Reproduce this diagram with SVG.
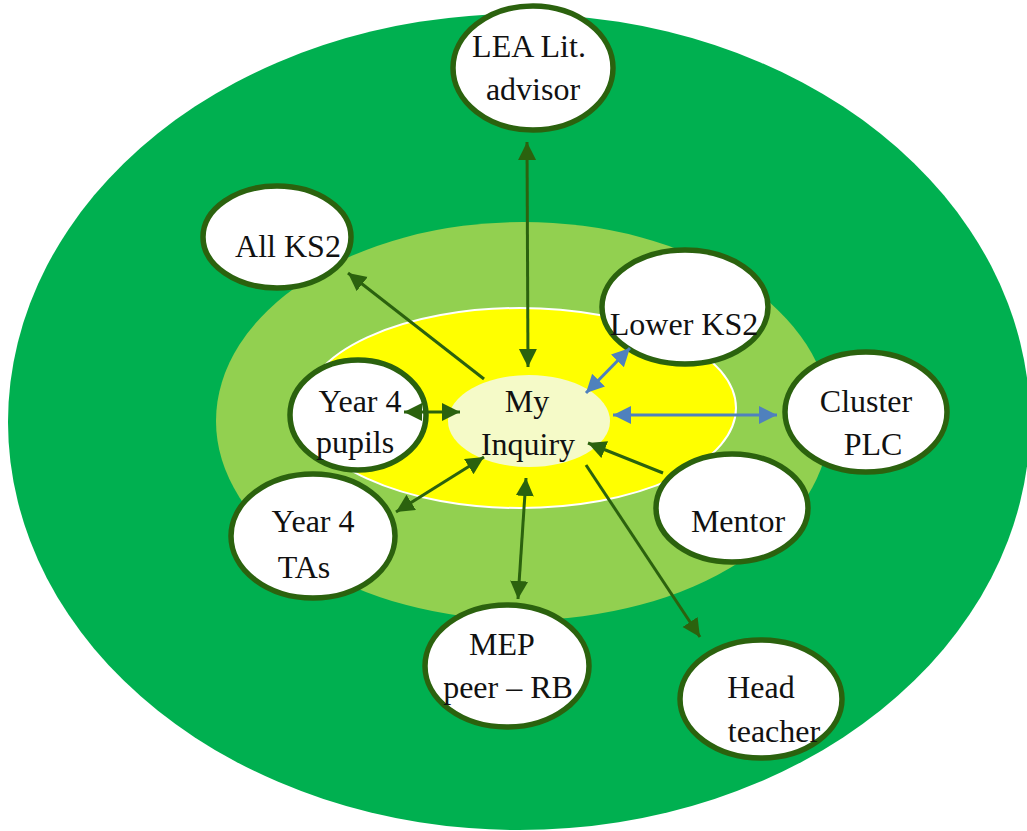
<svg xmlns="http://www.w3.org/2000/svg" width="1027" height="831" viewBox="0 0 1027 831">
  <style>
    .node { fill: #ffffff; stroke: #2b620e; stroke-width: 5.5; }
    .lbl { font-family: "Liberation Serif", "Times New Roman", serif; font-size: 32px; fill: #111111; text-anchor: middle; }
    .g { stroke: #2b620e; stroke-width: 3; fill: none; }
    .b { stroke: #4f81bd; stroke-width: 3; fill: none; }
  </style>
  <defs>
    <marker id="ag" markerUnits="userSpaceOnUse" markerWidth="20" markerHeight="20" refX="18" refY="9" orient="auto-start-reverse">
      <path d="M0,0 L18,9 L0,18 z" fill="#2b620e"/>
    </marker>
    <marker id="ab" markerUnits="userSpaceOnUse" markerWidth="20" markerHeight="20" refX="18" refY="9" orient="auto-start-reverse">
      <path d="M0,0 L18,9 L0,18 z" fill="#4f81bd"/>
    </marker>
  </defs>

  <rect width="1027" height="831" fill="#ffffff"/>

  <!-- concentric zones -->
  <g id="zones">
    <ellipse cx="519" cy="422" rx="511" ry="408" fill="#00b050"/>
    <ellipse cx="523" cy="421" rx="307" ry="199" fill="#92d050"/>
    <ellipse cx="520" cy="408" rx="216" ry="100" fill="#ffff00" stroke="#ffffff" stroke-width="2"/>
  </g>

  <g id="my-inquiry">
    <ellipse cx="529" cy="421" rx="81" ry="46" fill="#f5fac8"/>
    <text class="lbl" x="527" y="412">My</text>
    <text class="lbl" x="528" y="455">Inquiry</text>
  </g>

  <g id="lea-advisor">
    <ellipse class="node" cx="533" cy="68" rx="80" ry="62"/>
    <text class="lbl" x="529" y="57">LEA Lit.</text>
    <text class="lbl" x="533" y="100">advisor</text>
  </g>

  <g id="all-ks2">
    <ellipse class="node" cx="277" cy="237" rx="74" ry="51"/>
    <text class="lbl" x="288" y="257">All KS2</text>
  </g>

  <g id="lower-ks2">
    <ellipse class="node" cx="685" cy="307" rx="83" ry="57"/>
    <text class="lbl" x="684" y="335">Lower KS2</text>
  </g>

  <g id="cluster-plc">
    <ellipse class="node" cx="866" cy="412" rx="81" ry="60"/>
    <text class="lbl" x="866" y="412">Cluster</text>
    <text class="lbl" x="873" y="455">PLC</text>
  </g>

  <g id="mentor">
    <ellipse class="node" cx="732" cy="508" rx="76" ry="54"/>
    <text class="lbl" x="738" y="532">Mentor</text>
  </g>

  <g id="head-teacher">
    <ellipse class="node" cx="761" cy="699" rx="81" ry="59"/>
    <text class="lbl" x="761" y="698">Head</text>
    <text class="lbl" x="774" y="742">teacher</text>
  </g>

  <g id="mep-peer">
    <ellipse class="node" cx="507" cy="666" rx="82" ry="61"/>
    <text class="lbl" x="502" y="655">MEP</text>
    <text class="lbl" x="508" y="698">peer – RB</text>
  </g>

  <g id="year4-tas">
    <ellipse class="node" cx="313" cy="536" rx="82" ry="62"/>
    <text class="lbl" x="313" y="532">Year 4</text>
    <text class="lbl" x="304" y="578">TAs</text>
  </g>

  <g id="year4-pupils">
    <ellipse class="node" cx="358" cy="415" rx="68" ry="55"/>
    <text class="lbl" x="360" y="412">Year 4</text>
    <text class="lbl" x="355" y="453">pupils</text>
  </g>

  <!-- connectors -->
  <g id="connectors">
    <line class="g" x1="527" y1="142" x2="528" y2="367" marker-start="url(#ag)" marker-end="url(#ag)"/>
    <line class="g" x1="484" y1="379" x2="348" y2="273" marker-end="url(#ag)"/>
    <line class="b" x1="630" y1="348" x2="586" y2="393" marker-start="url(#ab)" marker-end="url(#ab)"/>
    <line class="b" x1="613" y1="415" x2="777" y2="415" marker-start="url(#ab)" marker-end="url(#ab)"/>
    <line class="g" x1="663" y1="473" x2="588" y2="443" marker-end="url(#ag)"/>
    <line class="g" x1="586" y1="465" x2="700" y2="637" marker-end="url(#ag)"/>
    <line class="g" x1="526" y1="478" x2="518" y2="599" marker-start="url(#ag)" marker-end="url(#ag)"/>
    <line class="g" x1="396" y1="512" x2="484" y2="457" marker-start="url(#ag)" marker-end="url(#ag)"/>
    <line class="g" stroke-width="4" x1="404" y1="412" x2="460" y2="412" marker-start="url(#ag)" marker-end="url(#ag)"/>
  </g>
</svg>
